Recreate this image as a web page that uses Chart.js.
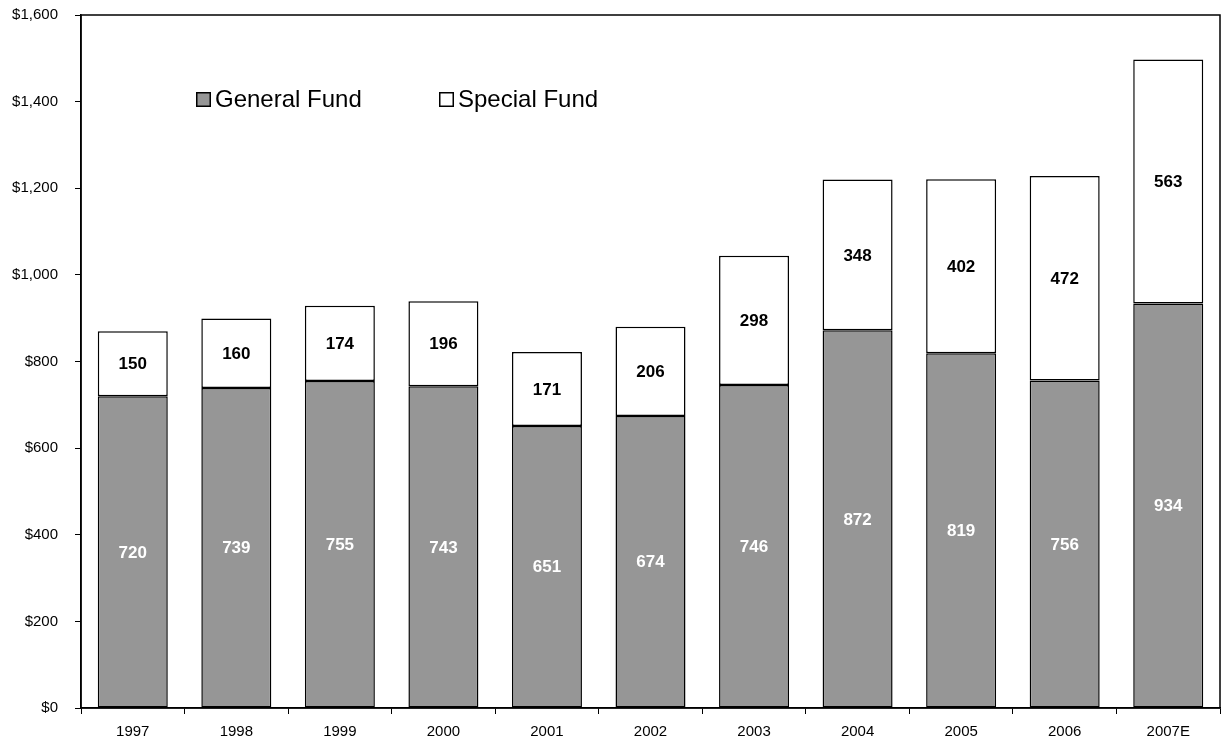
<!DOCTYPE html>
<html>
<head>
<meta charset="utf-8">
<script src="https://cdn.jsdelivr.net/npm/chart.js@4/dist/chart.umd.min.js"></script>
<style>
  html, body { margin: 0; padding: 0; background: #fff; }
  #wrap { width: 1224px; height: 744px; }
</style>
</head>
<body>
<div id="wrap"><canvas id="fundChart" width="1224" height="744"></canvas></div>
<script>
const years = ['1997', '1998', '1999', '2000', '2001', '2002', '2003', '2004', '2005', '2006', '2007E'];
const generalFund = [720, 739, 755, 743, 651, 674, 746, 872, 819, 756, 934];
const specialFund = [150, 160, 174, 196, 171, 206, 298, 348, 402, 472, 563];
const yTicks = [0, 200, 400, 600, 800, 1000, 1200, 1400, 1600];

// box around the plot + bar value labels + legend inside the plot
const extras = {
    id: 'extras',
    afterDatasetsDraw(chart) {
        const ctx = chart.ctx;
        const area = chart.chartArea;
        ctx.save();
        ctx.strokeStyle = '#000';
        ctx.lineWidth = 1.5;
        ctx.strokeRect(area.left, area.top, area.right - area.left, area.bottom - area.top);

        ctx.font = 'bold 17px "Liberation Sans", Arial, sans-serif';
        ctx.textAlign = 'center';
        ctx.textBaseline = 'middle';
        chart.data.datasets.forEach(function (ds, i) {
            const meta = chart.getDatasetMeta(i);
            meta.data.forEach(function (bar, j) {
                const mid = (bar.y + bar.base) / 2;
                ctx.fillStyle = i === 0 ? '#fff' : '#000';
                ctx.fillText(ds.data[j], bar.x, mid + 1);
            });
        });

        // legend
        ctx.font = '24px "Liberation Sans", Arial, sans-serif';
        ctx.textAlign = 'left';
        const items = [
            { x: 196, fill: '#969696', text: chart.data.datasets[0].label },
            { x: 439, fill: '#ffffff', text: chart.data.datasets[1].label }
        ];
        items.forEach(function (it) {
            ctx.fillStyle = it.fill;
            ctx.fillRect(it.x, 92, 15, 15);
            ctx.lineWidth = 1.5;
            ctx.strokeStyle = '#000';
            ctx.strokeRect(it.x + 0.75, 92.75, 13.5, 13.5);
            ctx.fillStyle = '#000';
            ctx.fillText(it.text, it.x + 19, 100);
        });
        ctx.restore();
    }
};

const ctx = document.getElementById('fundChart').getContext('2d');
new Chart(ctx, {
    type: 'bar',
    data: {
        labels: years,
        datasets: [{
            label: 'General Fund',
            data: generalFund,
            backgroundColor: '#969696',
            borderColor: '#000',
            borderWidth: 1.5,
            borderSkipped: false,
            categoryPercentage: 1,
            barPercentage: 0.676
        }, {
            label: 'Special Fund',
            data: specialFund,
            backgroundColor: '#ffffff',
            borderColor: '#000',
            borderWidth: 1.5,
            borderSkipped: false,
            categoryPercentage: 1,
            barPercentage: 0.676
        }]
    },
    options: {
        responsive: false,
        animation: false,
        layout: { padding: { top: 15, right: 4, left: 0, bottom: 0 } },
        plugins: {
            legend: { display: false },
            tooltip: { enabled: false }
        },
        scales: {
            x: {
                stacked: true,
                grid: { drawOnChartArea: false, offset: true, tickLength: 6, color: '#000', lineWidth: 1 },
                border: { color: '#000', width: 1.5 },
                ticks: {
                    color: '#000',
                    padding: 9,
                    maxRotation: 0,
                    font: { family: '"Liberation Sans", Arial, sans-serif', size: 15 }
                },
                afterFit: function (scale) {
                    scale.height = 36;
                    scale.paddingLeft = 0;
                    scale.paddingRight = 0;
                }
            },
            y: {
                stacked: true,
                min: 0,
                max: 1600,
                afterBuildTicks: function (scale) {
                    scale.ticks = yTicks.map(function (v) { return { value: v }; });
                },
                grid: { drawOnChartArea: false, tickLength: 6, color: '#000', lineWidth: 1 },
                border: { color: '#000', width: 1.5 },
                ticks: {
                    color: '#000',
                    padding: 17,
                    font: { family: '"Liberation Sans", Arial, sans-serif', size: 15 },
                    callback: function (value) {
                        return '$' + value.toLocaleString('en-US');
                    }
                },
                afterFit: function (scale) {
                    scale.width = 81;
                    scale.paddingTop = 0;
                    scale.paddingBottom = 0;
                }
            }
        }
    },
    plugins: [extras]
});
</script>
</body>
</html>
